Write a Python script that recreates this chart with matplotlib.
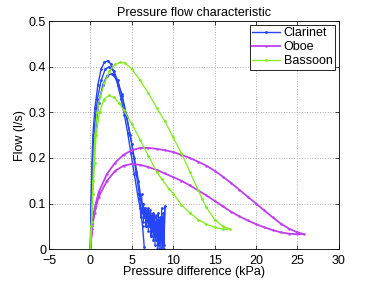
import numpy as np
import matplotlib.pyplot as plt

plt.rcParams['font.family'] = ['Liberation Sans', 'DejaVu Sans']

# ---- Clarinet (several cycles + noisy tail) ----
clar_x1 = [0, 0.05, 0.15, 0.3, 0.55, 0.9, 1.3, 1.7, 2.1, 2.5, 2.9, 3.3, 3.7, 4.1, 4.5, 4.9, 5.3, 5.7, 6.0, 6.3, 6.5]
clar_y1 = [0, 0.08, 0.17, 0.25, 0.31, 0.36, 0.395, 0.41, 0.413, 0.405, 0.385, 0.36, 0.33, 0.295, 0.255, 0.21, 0.165, 0.12, 0.09, 0.05, 0.005]

clar_x2 = [0, 0.1, 0.25, 0.5, 0.85, 1.3, 1.8, 2.3, 2.8, 3.3, 3.8, 4.3, 4.8, 5.3, 5.8, 6.2]
clar_y2 = [0, 0.1, 0.19, 0.27, 0.33, 0.37, 0.395, 0.4, 0.39, 0.37, 0.335, 0.295, 0.25, 0.2, 0.15, 0.1]

clar_x3 = [0, 0.1, 0.3, 0.6, 1.0, 1.5, 2.0, 2.6, 3.2, 3.8, 4.4, 5.0, 5.5, 6.0]
clar_y3 = [0, 0.09, 0.18, 0.26, 0.32, 0.36, 0.38, 0.385, 0.37, 0.34, 0.29, 0.23, 0.17, 0.11]

clar_tail_x = [6.0, 6.1, 6.3, 6.4, 6.6, 6.7, 6.9, 7.0, 7.2, 7.3, 7.4, 7.6, 7.7, 7.8, 8.0, 8.1, 8.2, 8.3, 8.4,
               8.5, 8.6, 8.7, 8.8, 8.9, 9.0, 8.9, 8.8, 8.7, 8.6, 8.5, 8.4, 8.3, 8.2, 8.1, 8.0, 7.9, 7.8,
               7.7, 7.6, 7.5, 7.4, 7.3, 7.2, 7.1, 7.0, 6.9, 6.8, 6.7, 6.6, 6.5, 6.4, 6.3, 6.2]
clar_tail_y = [0.11, 0.07, 0.1, 0.06, 0.09, 0.05, 0.08, 0.04, 0.085, 0.03, 0.07, 0.02, 0.075, 0.01, 0.065, 0.0, 0.08, 0.01,
               0.07, 0.0, 0.09, 0.005, 0.08, 0.0, 0.095, 0.01, 0.06, 0.0, 0.07, 0.02, 0.065, 0.0, 0.06, 0.03, 0.075,
               0.02, 0.07, 0.03, 0.08, 0.04, 0.075, 0.03, 0.08, 0.05, 0.09, 0.06, 0.085, 0.05, 0.09, 0.07, 0.1, 0.08, 0.12]

# ---- Oboe (one closed cycle) ----
oboe_x = [0, 0.2, 0.5, 1, 2, 3, 4, 5, 6, 7, 8, 9, 10, 11, 12, 13, 14, 15, 16, 17, 18, 19, 20, 21, 22, 23, 24, 25, 25.8,
          25, 24, 23, 22, 21, 20, 19, 18, 17, 16, 15, 14, 13, 12, 11, 10, 9, 8, 7, 6, 5, 4, 3, 2, 1, 0.5, 0.2, 0]
oboe_y = [0, 0.05, 0.09, 0.125, 0.165, 0.19, 0.207, 0.217, 0.222, 0.222, 0.22, 0.217, 0.213, 0.207, 0.2, 0.192, 0.183,
          0.172, 0.159, 0.145, 0.13, 0.115, 0.1, 0.085, 0.07, 0.056, 0.045, 0.037, 0.033,
          0.033, 0.034, 0.037, 0.042, 0.048, 0.055, 0.063, 0.072, 0.082, 0.094, 0.106, 0.118, 0.129, 0.14, 0.15,
          0.158, 0.166, 0.174, 0.18, 0.185, 0.187, 0.183, 0.172, 0.15, 0.115, 0.08, 0.045, 0]

# ---- Bassoon (outer and inner cycle) ----
bass_x = [0, 0.1, 0.2, 0.3, 0.4, 0.55, 0.8, 1.2, 1.7, 2.3, 3.0, 3.6, 4.2, 5, 6, 7, 8, 9, 10, 11, 12, 13, 13.5,
          14, 15, 16, 16.9,
          16, 15, 14, 13, 12, 11, 10, 9.5, 8.65, 8, 7, 6, 5, 4, 3.5, 2.8, 2.2, 1.6, 1.1, 0.7, 0.5, 0.3, 0.15, 0]
bass_y = [0, 0.05, 0.1, 0.15, 0.2, 0.25, 0.3, 0.335, 0.365, 0.39, 0.405, 0.41, 0.408, 0.395, 0.37, 0.342, 0.31,
          0.28, 0.245, 0.21, 0.17, 0.13, 0.11, 0.092, 0.065, 0.05, 0.044,
          0.044, 0.048, 0.055, 0.065, 0.08, 0.097, 0.122, 0.132, 0.153, 0.17, 0.205, 0.24, 0.275, 0.305, 0.32,
          0.333, 0.337, 0.328, 0.3, 0.25, 0.19, 0.12, 0.06, 0]

x_ticks = [-5, 0, 5, 10, 15, 20, 25, 30]
y_ticks = [0, 0.1, 0.2, 0.3, 0.4, 0.5]
y_ticklabels = ['0', '0.1', '0.2', '0.3', '0.4', '0.5']

c_clar = '#2644f8'
c_oboe = '#c040f0'
c_bass = '#80ec1c'

fig = plt.figure(figsize=(3.74, 2.81), dpi=100)
ax = fig.add_axes([0.131, 0.113, 0.775, 0.812])

ax.plot(clar_x1, clar_y1, color=c_clar, lw=1.0, marker='.', ms=2, label='Clarinet')
ax.plot(clar_x2, clar_y2, color=c_clar, lw=1.0, marker='.', ms=2)
ax.plot(clar_x3, clar_y3, color=c_clar, lw=1.0, marker='.', ms=2)
ax.plot(clar_tail_x, clar_tail_y, color=c_clar, lw=0.8, marker='.', ms=2)
ax.plot(oboe_x, oboe_y, color=c_oboe, lw=1.3, marker='.', ms=1.5, label='Oboe')
ax.plot(bass_x, bass_y, color=c_bass, lw=0.9, marker='.', ms=2, label='Bassoon')

ax.set_xlim(-5, 30)
ax.set_ylim(0, 0.5)
ax.set_xticks(x_ticks)
ax.set_xticklabels(['\u22125' if t == -5 else str(t) for t in x_ticks])
ax.set_yticks(y_ticks)
ax.set_yticklabels(y_ticklabels)
ax.tick_params(direction='in', top=True, right=True, labelsize=9, length=3, width=0.5)
ax.tick_params(axis='x', pad=4.5)
ax.tick_params(axis='y', pad=2)
ax.grid(True, linestyle=':', color='#b0b0b0', linewidth=0.7)
for s in ax.spines.values():
    s.set_linewidth(0.6)

ax.set_title('Pressure flow characteristic', fontsize=9, pad=4)
ax.set_xlabel('Pressure difference (kPa)', fontsize=9, labelpad=-1)
ax.set_ylabel('Flow (l/s)', fontsize=9, labelpad=2)

leg = ax.legend(loc='upper right', fontsize=9, fancybox=False, edgecolor='black', framealpha=1,
                borderpad=0.2, labelspacing=0.15, handlelength=2.2, handletextpad=0.3, borderaxespad=0.3)
leg.get_frame().set_linewidth(0.6)

plt.savefig('out.png', dpi=100)
